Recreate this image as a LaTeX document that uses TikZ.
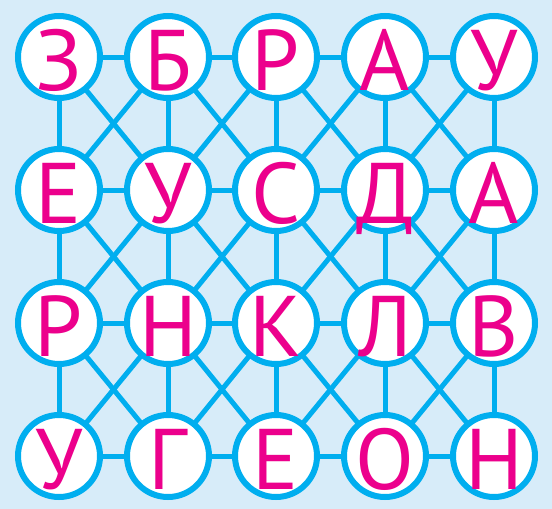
\documentclass[tikz,border=0pt]{standalone}
\usepackage{fontspec}
\setmainfont{PT Sans}
\definecolor{bgblue}{HTML}{D7ECF9}
\definecolor{linecyan}{HTML}{00AEEF}
\definecolor{lettermag}{HTML}{EC008C}
\begin{document}
\begin{tikzpicture}[x=1pt,y=-1pt,
  ring/.style={circle,draw=linecyan,fill=white,line width=6pt,minimum size=82pt,inner sep=0pt},
  link/.style={draw=linecyan,line width=5pt},
  letter/.style={text=lettermag,font=\fontsize{86}{86}\selectfont,anchor=base,inner sep=0pt}]
\fill[bgblue] (0,0) rectangle (552,509);
\useasboundingbox (0,0) rectangle (552,509);
\def\xs{{59,168,276,385,494}}
\def\ys{{57,190,323,456}}
% nodes
\foreach \r in {0,...,3}{
  \foreach \c in {0,...,4}{
    \pgfmathsetmacro\px{\xs[\c]}
    \pgfmathsetmacro\py{\ys[\r]}
    \coordinate (p\r\c) at (\px,\py);
  }
}
% links
\foreach \r in {0,...,3}{
  \foreach \c [evaluate=\c as \cn using int(\c+1)] in {0,...,3}{
    \draw[link] (p\r\c) -- (p\r\cn);
  }
}
\foreach \r [evaluate=\r as \rn using int(\r+1)] in {0,...,2}{
  \foreach \c in {0,...,4}{
    \draw[link] (p\r\c) -- (p\rn\c);
  }
  \foreach \c [evaluate=\c as \cn using int(\c+1)] in {0,...,3}{
    \draw[link] (p\r\c) -- (p\rn\cn);
    \draw[link] (p\r\cn) -- (p\rn\c);
  }
}
\foreach \r in {0,...,3}{
  \foreach \c in {0,...,4}{
    \node[ring] (n\r\c) at (p\r\c) {};
  }
}
\foreach \l [count=\i from 0] in {З,Б,Р,А,У,Е,У,С,Д,А,Р,Н,К,Л,В,У,Г,Е,О,Н}{
  \pgfmathtruncatemacro\rr{\i/5}
  \pgfmathtruncatemacro\cc{mod(\i,5)}
  \node[letter] (t\rr\cc) at ([yshift=-33pt]n\rr\cc.center) {\l};
}
\end{tikzpicture}
\end{document}
